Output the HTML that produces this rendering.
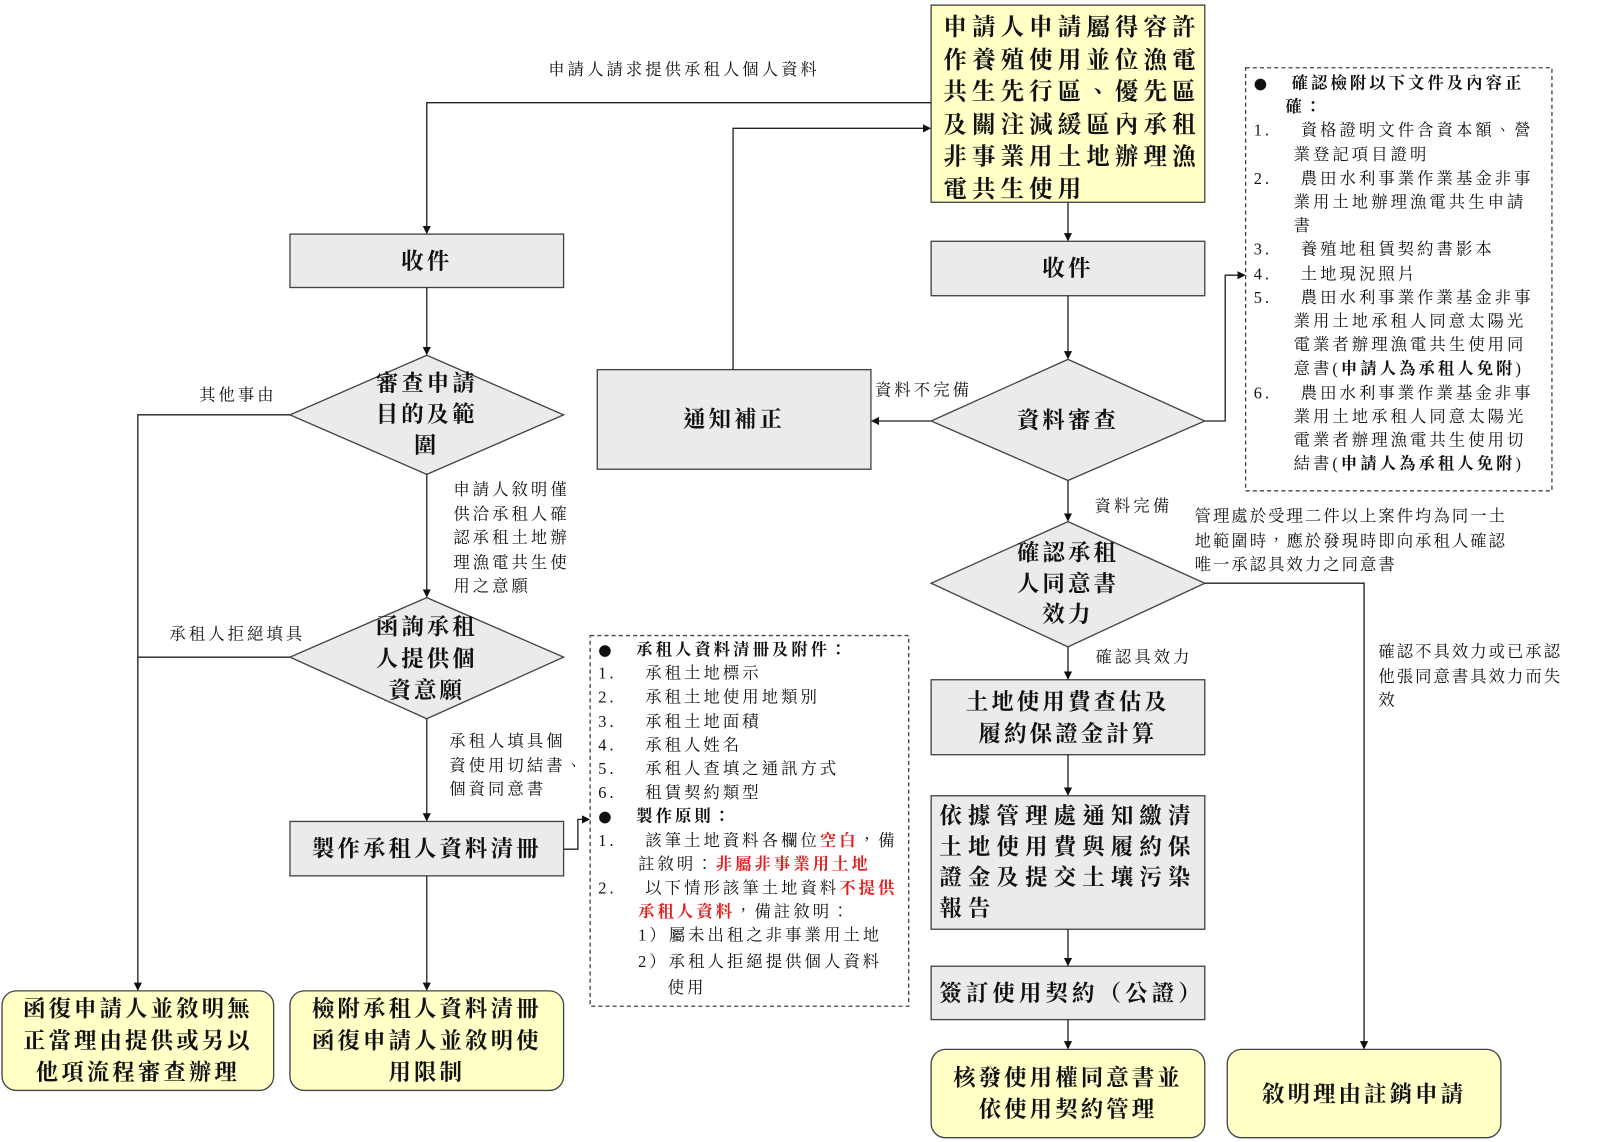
<!DOCTYPE html>
<html><head><meta charset="utf-8">
<style>
html,body{margin:0;padding:0;background:#fff;}
body{width:1600px;height:1142px;overflow:hidden;position:relative;}
#w{position:absolute;left:0;top:0;width:1553px;height:1110px;transform:scale(1.021,1.0268);transform-origin:0 0;font-family:"Liberation Serif","Noto Serif CJK TC","Noto Serif CJK SC",serif;color:#111;}
.t{position:absolute;font-size:16px;letter-spacing:3px;line-height:23.5px;white-space:nowrap;}
.b{position:absolute;display:flex;align-items:center;justify-content:center;text-align:center;font-size:22px;font-weight:bold;letter-spacing:3px;line-height:31px;white-space:nowrap;}
.r{color:#e02020;font-weight:bold;}
.li{position:absolute;font-size:16px;letter-spacing:3px;line-height:23.3px;white-space:nowrap;}
.dot{font-family:"DejaVu Sans",sans-serif;font-size:15px;}
</style></head><body>
<div id="w">
<svg width="1553" height="1110" style="position:absolute;left:0;top:0">
<defs><marker id="a" markerWidth="8" markerHeight="8" refX="7" refY="4" orient="auto" markerUnits="userSpaceOnUse"><path d="M0,0 L8,4 L0,8 z" fill="#111"/></marker></defs>
<g fill="none" stroke="#222" stroke-width="1.3">
<rect x="912" y="5" width="268" height="192" fill="#ffffc6" stroke="#444"/>
<rect x="284" y="228" width="268" height="52" fill="#ebebeb" stroke="#444"/>
<polygon points="418,346 552,404 418,462 284,404" fill="#ebebeb" stroke="#444"/>
<polygon points="418,582 552,640 418,700 284,640" fill="#ebebeb" stroke="#444"/>
<rect x="284" y="800" width="268" height="53" fill="#ebebeb" stroke="#444"/>
<rect x="2" y="965" width="266" height="97" rx="14" fill="#ffffc6" stroke="#444"/>
<rect x="284" y="965" width="268" height="97" rx="14" fill="#ffffc6" stroke="#444"/>
<rect x="578" y="619" width="312" height="361" stroke-dasharray="4,3" stroke="#444"/>
<rect x="1220" y="66" width="300" height="412" stroke-dasharray="4,3" stroke="#444"/>
<rect x="585" y="360" width="268" height="97" fill="#ebebeb" stroke="#444"/>
<rect x="912" y="235" width="268" height="53" fill="#ebebeb" stroke="#444"/>
<polygon points="1046,350 1180,410 1046,468 912,410" fill="#ebebeb" stroke="#444"/>
<polygon points="1046,508 1180,568 1046,630 912,568" fill="#ebebeb" stroke="#444"/>
<rect x="912" y="662" width="268" height="73" fill="#ebebeb" stroke="#444"/>
<rect x="912" y="775" width="268" height="130" fill="#ebebeb" stroke="#444"/>
<rect x="912" y="941" width="268" height="52" fill="#ebebeb" stroke="#444"/>
<rect x="912" y="1022" width="268" height="86" rx="14" fill="#ffffc6" stroke="#444"/>
<rect x="1202" y="1022" width="268" height="86" rx="14" fill="#ffffc6" stroke="#444"/>
<polyline points="912,100 418,100 418,227" marker-end="url(#a)"/>
<polyline points="718,360 718,125 911,125" marker-end="url(#a)"/>
<line x1="418" y1="280" x2="418" y2="345" marker-end="url(#a)"/>
<polyline points="284,404 135,404 135,964" marker-end="url(#a)"/>
<line x1="418" y1="462" x2="418" y2="581" marker-end="url(#a)"/>
<line x1="284" y1="640" x2="135" y2="640"/>
<line x1="418" y1="700" x2="418" y2="799" marker-end="url(#a)"/>
<polyline points="552,827 566,827 566,798 577,798" marker-end="url(#a)"/>
<line x1="418" y1="853" x2="418" y2="964" marker-end="url(#a)"/>
<line x1="1046" y1="197" x2="1046" y2="234" marker-end="url(#a)"/>
<line x1="1046" y1="288" x2="1046" y2="349" marker-end="url(#a)"/>
<line x1="912" y1="410" x2="854" y2="410" marker-end="url(#a)"/>
<polyline points="1180,410 1200,410 1200,268 1219,268" marker-end="url(#a)"/>
<line x1="1046" y1="468" x2="1046" y2="507" marker-end="url(#a)"/>
<polyline points="1180,568 1336,568 1336,1021" marker-end="url(#a)"/>
<line x1="1046" y1="630" x2="1046" y2="661" marker-end="url(#a)"/>
<line x1="1046" y1="735" x2="1046" y2="774" marker-end="url(#a)"/>
<line x1="1046" y1="905" x2="1046" y2="940" marker-end="url(#a)"/>
<line x1="1046" y1="993" x2="1046" y2="1021" marker-end="url(#a)"/>
</g>
</svg>

<div class="b" style="left:914px;top:7px;width:266px;height:190px;justify-content:flex-start;align-items:flex-start;text-align:left;font-size:23px;letter-spacing:5px;line-height:31.5px;padding:4px 0 0 10px;box-sizing:border-box;">申請人申請屬得容許<br>作養殖使用並位漁電<br>共生先行區、優先區<br>及關注減緩區內承租<br>非事業用土地辦理漁<br>電共生使用</div>
<div class="t" style="left:537px;top:57px;">申請人請求提供承租人個人資料</div>
<div class="b" style="left:284px;top:228px;width:268px;height:52px;">收件</div>
<div class="b" style="left:284px;top:350px;width:268px;height:108px;line-height:30px;">審查申請<br>目的及範<br>圍</div>
<div class="t" style="left:195px;top:374px;">其他事由</div>
<div class="t" style="left:444px;top:466px;">申請人敘明僅<br>供洽承租人確<br>認承租土地辦<br>理漁電共生使<br>用之意願</div>
<div class="b" style="left:284px;top:592px;width:268px;height:98px;line-height:31px;">函詢承租<br>人提供個<br>資意願</div>
<div class="t" style="left:166px;top:607px;">承租人拒絕填具</div>
<div class="t" style="left:440px;top:711px;">承租人填具個<br>資使用切結書、<br>個資同意書</div>
<div class="b" style="left:284px;top:800px;width:268px;height:53px;">製作承租人資料清冊</div>
<div class="b" style="left:2px;top:965px;width:266px;height:97px;">函復申請人並敘明無<br>正當理由提供或另以<br>他項流程審查辦理</div>
<div class="b" style="left:284px;top:965px;width:268px;height:97px;">檢附承租人資料清冊<br>函復申請人並敘明使<br>用限制</div>

<div class="li" style="left:586px;top:622px;line-height:23.2px;">
<b><span class="dot">●</span>&nbsp;&nbsp;&nbsp;承租人資料清冊及附件：</b><br>
1.&nbsp;&nbsp;&nbsp;&nbsp;承租土地標示<br>
2.&nbsp;&nbsp;&nbsp;&nbsp;承租土地使用地類別<br>
3.&nbsp;&nbsp;&nbsp;&nbsp;承租土地面積<br>
4.&nbsp;&nbsp;&nbsp;&nbsp;承租人姓名<br>
5.&nbsp;&nbsp;&nbsp;&nbsp;承租人查填之通訊方式<br>
6.&nbsp;&nbsp;&nbsp;&nbsp;租賃契約類型<br>
<b><span class="dot">●</span>&nbsp;&nbsp;&nbsp;製作原則：</b><br>
1.&nbsp;&nbsp;&nbsp;&nbsp;該筆土地資料各欄位<span class="r">空白</span>，備<br>
<span style="padding-left:39px">註敘明：<span class="r">非屬非事業用土地</span></span><br>
2.&nbsp;&nbsp;&nbsp;&nbsp;以下情形該筆土地資料<span class="r">不提供</span><br>
<span style="padding-left:39px"><span class="r">承租人資料</span>，備註敘明：</span><br>
<span style="padding-left:39px">1）屬未出租之非事業用土地</span><br>
<span style="padding-left:39px;line-height:27px">2）承租人拒絕提供個人資料</span><br>
<span style="padding-left:68px">使用</span>
</div>

<div class="b" style="left:585px;top:360px;width:268px;height:97px;">通知補正</div>
<div class="t" style="left:857px;top:369px;">資料不完備</div>
<div class="b" style="left:912px;top:235px;width:268px;height:53px;">收件</div>
<div class="b" style="left:912px;top:350px;width:268px;height:118px;">資料審查</div>
<div class="t" style="left:1072px;top:482px;">資料完備</div>
<div class="b" style="left:912px;top:520px;width:268px;height:98px;line-height:30px;">確認承租<br>人同意書<br>效力</div>
<div class="t" style="left:1170px;top:492px;letter-spacing:2px;">管理處於受理二件以上案件均為同一土<br>地範圍時，應於發現時即向承租人確認<br>唯一承認具效力之同意書</div>
<div class="t" style="left:1350px;top:624px;letter-spacing:2px;">確認不具效力或已承認<br>他張同意書具效力而失<br>效</div>
<div class="t" style="left:1073px;top:629px;">確認具效力</div>
<div class="b" style="left:912px;top:662px;width:268px;height:73px;">土地使用費查估及<br>履約保證金計算</div>
<div class="b" style="left:920px;top:775px;width:260px;height:130px;justify-content:flex-start;text-align:left;letter-spacing:6px;line-height:30px;">依據管理處通知繳清<br>土地使用費與履約保<br>證金及提交土壤污染<br>報告</div>
<div class="b" style="left:920px;top:941px;width:260px;height:52px;justify-content:flex-start;letter-spacing:4px;">簽訂使用契約（公證）</div>
<div class="b" style="left:912px;top:1022px;width:268px;height:86px;">核發使用權同意書並<br>依使用契約管理</div>
<div class="b" style="left:1202px;top:1022px;width:268px;height:86px;">敘明理由註銷申請</div>

<div class="li" style="left:1228px;top:70px;line-height:23.2px;">
<b><span class="dot">●</span>&nbsp;&nbsp;&nbsp;確認檢附以下文件及內容正</b><br>
<b><span style="padding-left:31px">確：</span></b><br>
1.&nbsp;&nbsp;&nbsp;&nbsp;資格證明文件含資本額、營<br>
<span style="padding-left:39px">業登記項目證明</span><br>
2.&nbsp;&nbsp;&nbsp;&nbsp;農田水利事業作業基金非事<br>
<span style="padding-left:39px">業用土地辦理漁電共生申請</span><br>
<span style="padding-left:39px">書</span><br>
3.&nbsp;&nbsp;&nbsp;&nbsp;養殖地租賃契約書影本<br>
4.&nbsp;&nbsp;&nbsp;&nbsp;土地現況照片<br>
5.&nbsp;&nbsp;&nbsp;&nbsp;農田水利事業作業基金非事<br>
<span style="padding-left:39px">業用土地承租人同意太陽光</span><br>
<span style="padding-left:39px">電業者辦理漁電共生使用同</span><br>
<span style="padding-left:39px">意書(<b>申請人為承租人免附</b>)</span><br>
6.&nbsp;&nbsp;&nbsp;&nbsp;農田水利事業作業基金非事<br>
<span style="padding-left:39px">業用土地承租人同意太陽光</span><br>
<span style="padding-left:39px">電業者辦理漁電共生使用切</span><br>
<span style="padding-left:39px">結書(<b>申請人為承租人免附</b>)</span>
</div>
</div>
</body></html>
